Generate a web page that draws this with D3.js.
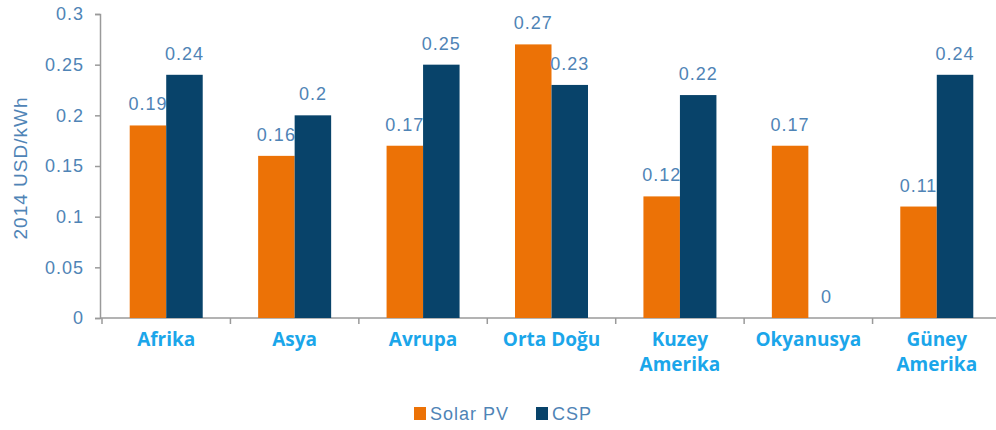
<!DOCTYPE html>
<html lang="tr">
<head>
  <meta charset="utf-8" />
  <title>Solar PV ve CSP maliyetleri</title>
  <style>
    body { margin: 0; background: #ffffff; }
    svg { display: block; }
    .lbl { font: 18px 'Liberation Sans', Arial, sans-serif; letter-spacing: 1px; }
  </style>
</head>
<body>
  <svg width="996" height="430"></svg>

  <script src="https://d3js.org/d3.v7.min.js"></script>
  <script>
    // data
    const regions = [["Afrika"], ["Asya"], ["Avrupa"], ["Orta Doğu"], ["Kuzey", "Amerika"], ["Okyanusya"], ["Güney", "Amerika"]];
    const solarPV = [0.19, 0.16, 0.17, 0.27, 0.12, 0.17, 0.11];
    const csp = [0.24, 0.2, 0.25, 0.23, 0.22, 0, 0.24];
    const seriesNames = ["Solar PV", "CSP"];
    const yTicks = [0, 0.05, 0.1, 0.15, 0.2, 0.25, 0.3];

    const colors = ["#ec7206", "#08436a"];
    const labelColor = "#4f84b6";

    const svg = d3.select("svg");

    const x = d3.scaleBand()
      .domain(regions.map((d, i) => i))
      .range([102, 1001]);
    const y = d3.scaleLinear().domain([0, 0.3]).range([318, 14]);
    const barW = 36.5;

    // y axis
    const yAxis = svg.append("g")
      .attr("transform", "translate(100,0)")
      .call(d3.axisLeft(y).tickValues(yTicks).tickSize(5).tickPadding(11).tickFormat(d => String(+d.toFixed(2))));
    yAxis.select(".domain").attr("stroke", "#9a9a9a").attr("stroke-width", 1.5);
    yAxis.selectAll(".tick line").attr("stroke", "#9a9a9a").attr("stroke-width", 1.5);
    yAxis.selectAll("text")
      .attr("class", "lbl")
      .attr("fill", labelColor)
      .attr("font-family", null).attr("font-size", null);

    svg.append("text")
      .attr("class", "lbl")
      .attr("transform", "translate(27,168) rotate(-90)")
      .attr("text-anchor", "middle")
      .attr("fill", labelColor)
      .style("font-size", "19px")
      .text("2014 USD/kWh");

    // x axis
    svg.append("line")
      .attr("x1", 100).attr("x2", 1001)
      .attr("y1", y(0)).attr("y2", y(0))
      .attr("stroke", "#9a9a9a").attr("stroke-width", 1.5);
    svg.append("g").selectAll("line")
      .data(regions.map((d, i) => i))
      .join("line")
      .attr("x1", d => x(d)).attr("x2", d => x(d))
      .attr("y1", y(0)).attr("y2", y(0) + 6)
      .attr("stroke", "#9a9a9a").attr("stroke-width", 1.5);

    // bars
    const series = [solarPV, csp];
    series.forEach((vals, s) => {
      const g = svg.append("g");
      g.selectAll("rect")
        .data(vals)
        .join("rect")
        .attr("x", (d, i) => x(i) + x.bandwidth() / 2 - barW + s * barW)
        .attr("y", d => y(d))
        .attr("width", barW)
        .attr("height", d => y(0) - y(d))
        .attr("fill", colors[s]);
      g.selectAll("text")
        .data(vals)
        .join("text")
        .attr("class", "lbl")
        .attr("x", (d, i) => x(i) + x.bandwidth() / 2 - barW / 2 + s * barW)
        .attr("y", d => y(d) - 15)
        .attr("text-anchor", "middle")
        .attr("fill", labelColor)
        .text(d => d);
    });

    // category labels
    const cat = svg.append("g").selectAll("text")
      .data(regions)
      .join("text")
      .attr("x", (d, i) => x(i) + x.bandwidth() / 2)
      .attr("y", 346)
      .attr("text-anchor", "middle")
      .attr("fill", "#1ba6ea")
      .style("font", "bold 19px 'Open Sans', sans-serif");
    cat.selectAll("tspan")
      .data(d => d)
      .join("tspan")
      .attr("x", function () { return this.parentNode.getAttribute("x"); })
      .attr("dy", (d, i) => i ? 25 : 0)
      .text(d => d);

    // legend
    const legend = svg.append("g");
    const legendX = [414, 536];
    seriesNames.forEach((name, s) => {
      legend.append("rect")
        .attr("x", legendX[s]).attr("y", 407)
        .attr("width", 12).attr("height", 13)
        .attr("fill", colors[s]);
      legend.append("text")
        .attr("class", "lbl")
        .attr("x", legendX[s] + 16).attr("y", 420)
        .attr("fill", labelColor)
        .text(name);
    });
  </script>
</body>
</html>
